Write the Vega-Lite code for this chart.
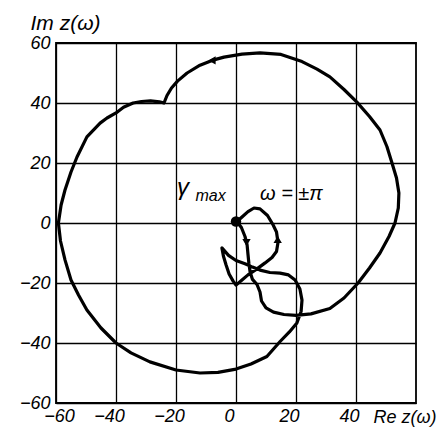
{
  "$schema": "https://vega.github.io/schema/vega-lite/v6.json",
  "width": 360,
  "height": 360,
  "autosize": {"type": "none"},
  "padding": {"left": 56, "top": 43, "right": 28, "bottom": 34},
  "background": "white",
  "config": {
    "view": {"stroke": "black", "strokeWidth": 1.8},
    "axis": {
      "ticks": false,
      "domain": false,
      "grid": true,
      "gridColor": "black",
      "gridWidth": 1.3,
      "gridOpacity": 1,
      "labelFont": "Liberation Sans",
      "labelFontStyle": "italic",
      "labelFontSize": 18,
      "labelColor": "black",
      "labelOverlap": false,
      "labelFlush": false,
      "titleFont": "Liberation Sans",
      "titleFontStyle": "italic",
      "titleFontWeight": "normal",
      "titleFontSize": 18,
      "titleColor": "black"
    }
  },
  "datasets": {
    "curve": [
      {"i":0,"re":8,"im":56.7},{"i":1,"re":2,"im":56.3},{"i":2,"re":-4,"im":55.3},{"i":3,"re":-8,"im":54.2},
      {"i":4,"re":-12,"im":52.6},{"i":5,"re":-16.3,"im":50},{"i":6,"re":-19.5,"im":47.3},{"i":7,"re":-21.5,"im":45},
      {"i":8,"re":-23,"im":42.5},{"i":9,"re":-24,"im":40},{"i":10,"re":-25.5,"im":40.4},{"i":11,"re":-28.5,"im":40.7},
      {"i":12,"re":-31.5,"im":40.5},{"i":13,"re":-34.3,"im":40},{"i":14,"re":-37.5,"im":38.6},{"i":15,"re":-40,"im":36.7},
      {"i":16,"re":-43,"im":35},{"i":17,"re":-45.3,"im":33.3},{"i":18,"re":-49.7,"im":28.7},{"i":19,"re":-53,"im":22},
      {"i":20,"re":-55,"im":17},{"i":21,"re":-57,"im":11},{"i":22,"re":-58.3,"im":6},{"i":23,"re":-59.2,"im":0},
      {"i":24,"re":-58.5,"im":-6},{"i":25,"re":-57,"im":-12.3},{"i":26,"re":-55,"im":-19},{"i":27,"re":-52.5,"im":-24},
      {"i":28,"re":-49.7,"im":-29},{"i":29,"re":-45,"im":-35},{"i":30,"re":-40,"im":-40},{"i":31,"re":-35,"im":-43.3},
      {"i":32,"re":-28.7,"im":-46.3},{"i":33,"re":-20,"im":-49},{"i":34,"re":-12,"im":-50},{"i":35,"re":-6,"im":-49.8},
      {"i":36,"re":0,"im":-48.7},{"i":37,"re":5,"im":-47},{"i":38,"re":10.3,"im":-44.5},{"i":39,"re":14.7,"im":-39.5},
      {"i":40,"re":17.8,"im":-36.3},{"i":41,"re":20.3,"im":-33.3},{"i":42,"re":21.7,"im":-29.5},{"i":43,"re":22,"im":-25.7},
      {"i":44,"re":21.3,"im":-22},{"i":45,"re":19.7,"im":-19},{"i":46,"re":17.5,"im":-17.3},{"i":47,"re":14.7,"im":-16.7},
      {"i":48,"re":11.3,"im":-16.5},{"i":49,"re":8,"im":-15.7},{"i":50,"re":5.5,"im":-14.7},{"i":51,"re":3,"im":-13.6},
      {"i":52,"re":0,"im":-12.5},{"i":53,"re":-2.5,"im":-10.8},{"i":54,"re":-4.7,"im":-8.3},{"i":55,"re":-4.2,"im":-11},
      {"i":56,"re":-3.3,"im":-14},{"i":57,"re":-2.3,"im":-17},{"i":58,"re":-1,"im":-19.3},{"i":59,"re":0,"im":-20.7},
      {"i":60,"re":2,"im":-19},{"i":61,"re":4,"im":-17.3},{"i":62,"re":7,"im":-15.3},{"i":63,"re":9.7,"im":-13.3},
      {"i":64,"re":12,"im":-11.5},{"i":65,"re":13.5,"im":-9.5},{"i":66,"re":14,"im":-6.5},{"i":67,"re":13.5,"im":-3},
      {"i":68,"re":12.3,"im":-0.5},{"i":69,"re":10.5,"im":2.5},{"i":70,"re":8,"im":4.7},{"i":71,"re":6,"im":5},
      {"i":72,"re":4,"im":3.8},{"i":73,"re":2,"im":2},{"i":74,"re":0.3,"im":0.5},{"i":75,"re":1.8,"im":-1.5},
      {"i":76,"re":3,"im":-4.5},{"i":77,"re":3.7,"im":-7.3},{"i":78,"re":4,"im":-10.5},{"i":79,"re":4.3,"im":-13.5},
      {"i":80,"re":4.7,"im":-16.3},{"i":81,"re":5.5,"im":-18.8},{"i":82,"re":7,"im":-20.5},{"i":83,"re":8,"im":-23},
      {"i":84,"re":8.5,"im":-26},{"i":85,"re":10,"im":-28.3},{"i":86,"re":12.5,"im":-29.7},{"i":87,"re":16,"im":-30.5},
      {"i":88,"re":20,"im":-30.8},{"i":89,"re":25,"im":-30.3},{"i":90,"re":31.3,"im":-28.5},{"i":91,"re":36,"im":-25},
      {"i":92,"re":40.7,"im":-20},{"i":93,"re":44.5,"im":-15},{"i":94,"re":48,"im":-10},{"i":95,"re":51,"im":-4.5},
      {"i":96,"re":53,"im":0},{"i":97,"re":54.1,"im":5},{"i":98,"re":54.3,"im":10},{"i":99,"re":53.5,"im":15},
      {"i":100,"re":52,"im":20},{"i":101,"re":50.3,"im":25.5},{"i":102,"re":48,"im":31},{"i":103,"re":44.5,"im":35.5},
      {"i":104,"re":40.3,"im":40.3},{"i":105,"re":36,"im":44.5},{"i":106,"re":31.3,"im":48.7},{"i":107,"re":27,"im":51.3},
      {"i":108,"re":22,"im":53.8},{"i":109,"re":15,"im":56.2},{"i":110,"re":8,"im":56.7}
    ],
    "arrows": [
      {"re":-8,"im":54.2,"dir":"left"},
      {"re":13.9,"im":-5.5,"dir":"up"},
      {"re":3.5,"im":-6.5,"dir":"down"}
    ]
  },
  "layer": [
    {
      "data": {"name": "curve"},
      "mark": {"type": "line", "color": "black", "strokeWidth": 3.2, "strokeJoin": "round", "strokeCap": "round"},
      "encoding": {
        "x": {
          "field": "re", "type": "quantitative",
          "scale": {"domain": [-60, 60], "nice": false, "zero": false},
          "axis": {
            "values": [-60, -40, -20, 0, 20, 40],
            "labelPadding": 4,
            "labelOffset": {"condition": {"test": "datum.value == -60", "value": 3}, "value": -7},
            "title": "Re z(ω)",
            "titleX": 317,
            "titleY": 19,
            "titleAlign": "left",
            "titleBaseline": "alphabetic",
            "titleAnchor": null
          }
        },
        "y": {
          "field": "im", "type": "quantitative",
          "scale": {"domain": [-60, 60], "nice": false, "zero": false},
          "axis": {
            "values": [-60, -40, -20, 0, 20, 40, 60],
            "labelPadding": 6,
            "title": "Im z(ω)",
            "titleFontSize": 21,
            "titleAngle": 0,
            "titleX": -26,
            "titleY": -14,
            "titleAlign": "left",
            "titleBaseline": "alphabetic",
            "titleAnchor": null
          }
        },
        "order": {"field": "i", "type": "quantitative"}
      }
    },
    {
      "data": {"name": "arrows"},
      "mark": {"type": "point", "filled": true, "color": "black", "size": 70, "opacity": 1},
      "encoding": {
        "x": {"field": "re", "type": "quantitative"},
        "y": {"field": "im", "type": "quantitative"},
        "shape": {
          "field": "dir", "type": "nominal",
          "scale": {"domain": ["left", "up", "down"], "range": ["triangle-left", "triangle-up", "triangle-down"]},
          "legend": null
        }
      }
    },
    {
      "data": {"values": [{"re": 0, "im": 0.5}]},
      "mark": {"type": "point", "filled": true, "color": "black", "size": 110, "opacity": 1},
      "encoding": {
        "x": {"field": "re", "type": "quantitative"},
        "y": {"field": "im", "type": "quantitative"}
      }
    },
    {
      "data": {"values": [{"re": -19.7, "im": 9.5, "t": "γ"}]},
      "mark": {"type": "text", "font": "Liberation Sans", "fontStyle": "italic", "fontSize": 24, "align": "left", "baseline": "alphabetic", "color": "black"},
      "encoding": {
        "x": {"field": "re", "type": "quantitative"},
        "y": {"field": "im", "type": "quantitative"},
        "text": {"field": "t"}
      }
    },
    {
      "data": {"values": [{"re": -13.5, "im": 7.5, "t": "max"}]},
      "mark": {"type": "text", "font": "Liberation Sans", "fontStyle": "italic", "fontSize": 16, "align": "left", "baseline": "alphabetic", "color": "black"},
      "encoding": {
        "x": {"field": "re", "type": "quantitative"},
        "y": {"field": "im", "type": "quantitative"},
        "text": {"field": "t"}
      }
    },
    {
      "data": {"values": [{"re": 8, "im": 7.7, "t": "ω = ±π"}]},
      "mark": {"type": "text", "font": "Liberation Sans", "fontStyle": "italic", "fontSize": 20, "align": "left", "baseline": "alphabetic", "color": "black"},
      "encoding": {
        "x": {"field": "re", "type": "quantitative"},
        "y": {"field": "im", "type": "quantitative"},
        "text": {"field": "t"}
      }
    }
  ]
}
